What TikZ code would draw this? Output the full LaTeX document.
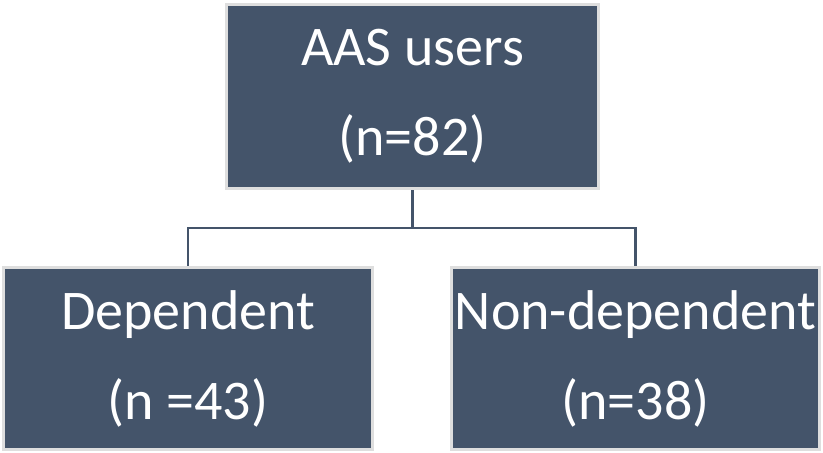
\documentclass[tikz,border=0pt]{standalone}
\usepackage{fontspec}
\setmainfont{Carlito}
\usetikzlibrary{positioning}
\definecolor{boxblue}{HTML}{44546A}
\definecolor{boxrim}{HTML}{DEDEDE}

\begin{document}
\begin{tikzpicture}[x=1pt, y=-1pt,
		group/.style={draw=boxrim, line width=3pt, fill=boxblue, text=white, align=center,
			font=\fontsize{56pt}{90pt}\selectfont, inner sep=0pt},
		link/.style={draw=boxblue, line width=2.5pt}]
		\useasboundingbox (0,0) rectangle (823,453);
		\node[group, minimum width=372pt, minimum height=184pt] (users) at (412.5,96.5) {AAS users\\(n=82)};
		\node[group, minimum width=369pt, minimum height=182pt] (dep) at (188,358.5) {Dependent\\(n =43)};
		\node[group, minimum width=368pt, minimum height=182pt] (nondep) at (635.5,358.5) {Non-dependent\\(n=38)};
		\coordinate (split) at (users.south |- 0,228);
		\draw[link] (users.south) -- (split) -| (dep.north);
		\draw[link] (split) -| (nondep.north);
	\end{tikzpicture}
\end{document}
